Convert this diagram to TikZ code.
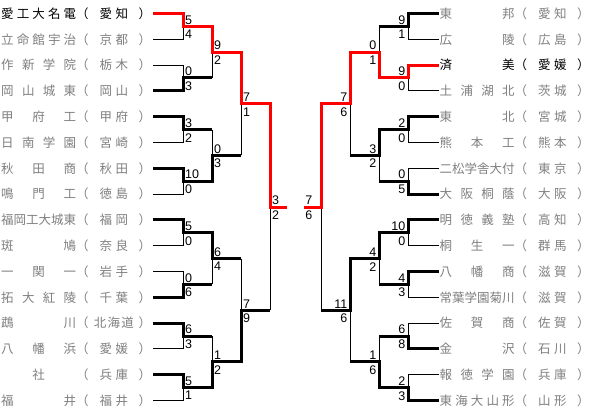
\documentclass[tikz,border=0pt]{standalone}
\usepackage{fontspec}
\newfontfamily\jp{Noto Sans CJK JP}
\newfontfamily\num{Liberation Sans}
\definecolor{txtgray}{HTML}{808080}
\newcommand\tm[2]{\makebox[75pt][s]{#1}\makebox[13pt][l]{（}\makebox[49.5pt][c]{#2}\makebox[13pt][l]{）}}
\newcommand\pf[2]{#1\kern3.5pt#2}
\newcommand\lsc[3]{%
  \node[score,anchor=south west] (#1-t) at ([xshift=2pt,yshift=2pt]#1) {#2};
  \node[score,anchor=north west] (#1-b) at ([xshift=2pt,yshift=-3.5pt]#1) {#3};}
\newcommand\rsc[3]{%
  \node[score,anchor=south east] (#1-t) at ([xshift=-2.5pt,yshift=2pt]#1) {#2};
  \node[score,anchor=north east] (#1-b) at ([xshift=-2.5pt,yshift=-3.5pt]#1) {#3};}
\begin{document}
\begin{tikzpicture}[x=1pt,y=-1pt,
  thinln/.style={line width=1pt,draw=black},
  thickln/.style={line width=3pt,draw=black},
  redln/.style={line width=3pt,draw=red},
  team/.style={inner sep=0pt,anchor=west,text=txtgray,font=\jp\fontsize{12.5pt}{12.5pt}\selectfont},
  winteam/.style={team,text=black},
  score/.style={inner sep=0pt,font=\num\fontsize{12.5pt}{12.5pt}\selectfont}]
\useasboundingbox[fill=white] (0,0) rectangle (592,417);
% row coordinates
\foreach \i in {0,...,15}{
  \pgfmathsetmacro\yy{13.5+25.8*\i}
  \coordinate (lt\i) at (153,\yy);
  \coordinate (rt\i) at (439,\yy);
}
\foreach \k in {0,...,7}{
  \pgfmathsetmacro\yy{26.4+51.6*\k}
  \coordinate (la1-\k) at (183,\yy);
  \coordinate (ra1-\k) at (408,\yy);
}
\foreach \k in {0,...,3}{
  \pgfmathsetmacro\yy{52.2+103.2*\k}
  \coordinate (la2-\k) at (212,\yy);
  \coordinate (ra2-\k) at (379,\yy);
}
\foreach \k in {0,1}{
  \pgfmathsetmacro\yy{103.8+206.4*\k}
  \coordinate (la3-\k) at (241,\yy);
  \coordinate (ra3-\k) at (350,\yy);
}
\coordinate (la4) at (270,207);
\coordinate (ra4) at (321,207);
\coordinate (lf) at (287,207);
\coordinate (rf) at (304,207);

% ---------- left teams
\node[winteam] (L0) at (1,13.5) {\tm{愛 工 大 名 電}{\pf{愛}{知}}};
\node[team] (L1) at (1,39.3) {\tm{立 命 館 宇 治}{\pf{京}{都}}};
\node[team] (L2) at (1,65.1) {\tm{作 新 学 院}{\pf{栃}{木}}};
\node[team] (L3) at (1,90.9) {\tm{岡 山 城 東}{\pf{岡}{山}}};
\node[team] (L4) at (1,116.7) {\tm{甲 府 工}{\pf{甲}{府}}};
\node[team] (L5) at (1,142.5) {\tm{日 南 学 園}{\pf{宮}{崎}}};
\node[team] (L6) at (1,168.3) {\tm{秋 田 商}{\pf{秋}{田}}};
\node[team] (L7) at (1,194.1) {\tm{鳴 門 工}{\pf{徳}{島}}};
\node[team] (L8) at (1,219.9) {\tm{福岡工大城東}{\pf{福}{岡}}};
\node[team] (L9) at (1,245.7) {\tm{斑 鳩}{\pf{奈}{良}}};
\node[team] (L10) at (1,271.5) {\tm{一 関 一}{\pf{岩}{手}}};
\node[team] (L11) at (1,297.3) {\tm{拓 大 紅 陵}{\pf{千}{葉}}};
\node[team] (L12) at (1,323.1) {\tm{鵡 川}{北\kern1.2pt 海\kern1.2pt 道}};
\node[team] (L13) at (1,348.9) {\tm{八 幡 浜}{\pf{愛}{媛}}};
\node[team] (L14) at (1,374.7) {\tm{\hfill 社\hfill}{\pf{兵}{庫}}};
\node[team] (L15) at (1,400.5) {\tm{福 井}{\pf{福}{井}}};
% ---------- right teams
\node[team] (R0) at (439.5,13.5) {\tm{東 邦}{\pf{愛}{知}}};
\node[team] (R1) at (439.5,39.3) {\tm{広 陵}{\pf{広}{島}}};
\node[winteam] (R2) at (439.5,65.1) {\tm{済 美}{\pf{愛}{媛}}};
\node[team] (R3) at (439.5,90.9) {\tm{土 浦 湖 北}{\pf{茨}{城}}};
\node[team] (R4) at (439.5,116.7) {\tm{東 北}{\pf{宮}{城}}};
\node[team] (R5) at (439.5,142.5) {\tm{熊 本 工}{\pf{熊}{本}}};
\node[team] (R6) at (439.5,168.3) {\tm{二松学舎大付}{\pf{東}{京}}};
\node[team] (R7) at (439.5,194.1) {\tm{大 阪 桐 蔭}{\pf{大}{阪}}};
\node[team] (R8) at (439.5,219.9) {\tm{明 徳 義 塾}{\pf{高}{知}}};
\node[team] (R9) at (439.5,245.7) {\tm{桐 生 一}{\pf{群}{馬}}};
\node[team] (R10) at (439.5,271.5) {\tm{八 幡 商}{\pf{滋}{賀}}};
\node[team] (R11) at (439.5,297.3) {\tm{常葉学園菊川}{\pf{滋}{賀}}};
\node[team] (R12) at (439.5,323.1) {\tm{佐 賀 商}{\pf{佐}{賀}}};
\node[team] (R13) at (439.5,348.9) {\tm{金 沢}{\pf{石}{川}}};
\node[team] (R14) at (439.5,374.7) {\tm{報 徳 学 園}{\pf{兵}{庫}}};
\node[team] (R15) at (439.5,400.5) {\tm{東 海 大 山 形}{\pf{山}{形}}};

% ---------- thin (losers)
\foreach \t/\m in {1/0,2/1,5/2,7/3,9/4,10/5,13/6,15/7}{
  \draw[thinln] (lt\t) -| (la1-\m);
}
\foreach \t/\m in {1/0,3/1,5/2,6/3,9/4,11/5,12/6,14/7}{
  \draw[thinln] (rt\t) -| (ra1-\m);
}
\draw[thinln] (la2-0 |- la1-1) -- (la2-0);
\draw[thinln] (la2-1 |- la1-2) -- (la2-1);
\draw[thinln] (la2-2 |- la1-5) -- (la2-2);
\draw[thinln] (la2-3 |- la1-6) -- (la2-3);
\draw[thinln] (la3-0 |- la2-1) -- (la3-0);
\draw[thinln] (la3-1 |- la2-2) -- (la3-1);
\draw[thinln] (la4 |- la3-1) -- (la4);
\draw[thinln] (ra2-0 |- ra1-0) -- (ra2-0);
\draw[thinln] (ra2-1 |- ra1-3) -- (ra2-1);
\draw[thinln] (ra2-2 |- ra1-5) -- (ra2-2);
\draw[thinln] (ra2-3 |- ra1-6) -- (ra2-3);
\draw[thinln] (ra3-0 |- ra2-1) -- (ra3-0);
\draw[thinln] (ra3-1 |- ra2-3) -- (ra3-1);
\draw[thinln] (ra4 |- ra3-1) -- (ra4);

% ---------- thick (winners)
\draw[thickln] (lt3) -| (la1-1) -- (la2-0 |- la1-1);
\draw[thickln] (lt4) -| (la1-2) -- (la2-1 |- la1-2);
\draw[thickln] (lt6) -| (la1-3) -| (la2-1) -- (la3-0 |- la2-1);
\draw[thickln] (lt8) -| (la1-4) -| (la2-2) -- (la3-1 |- la2-2);
\draw[thickln] (lt11) -| (la1-5) -- (la2-2 |- la1-5);
\draw[thickln] (lt12) -| (la1-6) -- (la2-3 |- la1-6);
\draw[thickln] (lt14) -| (la1-7) -| (la2-3) -| (la3-1) -- (la4 |- la3-1);
\draw[thickln] (rt0) -| (ra1-0) -- (ra2-0 |- ra1-0);
\draw[thickln] (rt4) -| (ra1-2) -| (ra2-1) -- (ra3-0 |- ra2-1);
\draw[thickln] (rt7) -| (ra1-3) -- (ra2-1 |- ra1-3);
\draw[thickln] (rt8) -| (ra1-4) -| (ra2-2) -| (ra3-1) -- (ra4 |- ra3-1);
\draw[thickln] (rt10) -| (ra1-5) -- (ra2-2 |- ra1-5);
\draw[thickln] (rt13) -| (ra1-6) -- (ra2-3 |- ra1-6);
\draw[thickln] (rt15) -| (ra1-7) -| (ra2-3) -- (ra3-1 |- ra2-3);
% ---------- red (finalists)
\draw[redln] (lt0) -| (la1-0) -| (la2-0) -| (la3-0) -| (la4) -- (lf);
\draw[redln] (rt2) -| (ra1-1) -| (ra2-0) -| (ra3-0) -| (ra4) -- (rf);

% ---------- scores
\lsc{la1-0}{5}{4}
\lsc{la1-1}{0}{3}
\lsc{la1-2}{3}{2}
\lsc{la1-3}{10}{0}
\lsc{la1-4}{5}{0}
\lsc{la1-5}{0}{6}
\lsc{la1-6}{6}{3}
\lsc{la1-7}{5}{1}
\lsc{la2-0}{9}{2}
\lsc{la2-1}{0}{3}
\lsc{la2-2}{6}{4}
\lsc{la2-3}{1}{2}
\lsc{la3-0}{7}{1}
\lsc{la3-1}{7}{9}
\lsc{la4}{3}{2}
\rsc{ra1-0}{9}{1}
\rsc{ra1-1}{9}{0}
\rsc{ra1-2}{2}{0}
\rsc{ra1-3}{0}{5}
\rsc{ra1-4}{10}{0}
\rsc{ra1-5}{4}{3}
\rsc{ra1-6}{6}{8}
\rsc{ra1-7}{2}{3}
\rsc{ra2-0}{0}{1}
\rsc{ra2-1}{3}{2}
\rsc{ra2-2}{4}{2}
\rsc{ra2-3}{1}{6}
\rsc{ra3-0}{7}{6}
\rsc{ra3-1}{11}{6}
\node[score,anchor=south east] (ra4-t) at ([xshift=-8.5pt,yshift=2pt]ra4) {7};
\node[score,anchor=north east] (ra4-b) at ([xshift=-8.5pt,yshift=-3.5pt]ra4) {6};
\end{tikzpicture}
\end{document}
